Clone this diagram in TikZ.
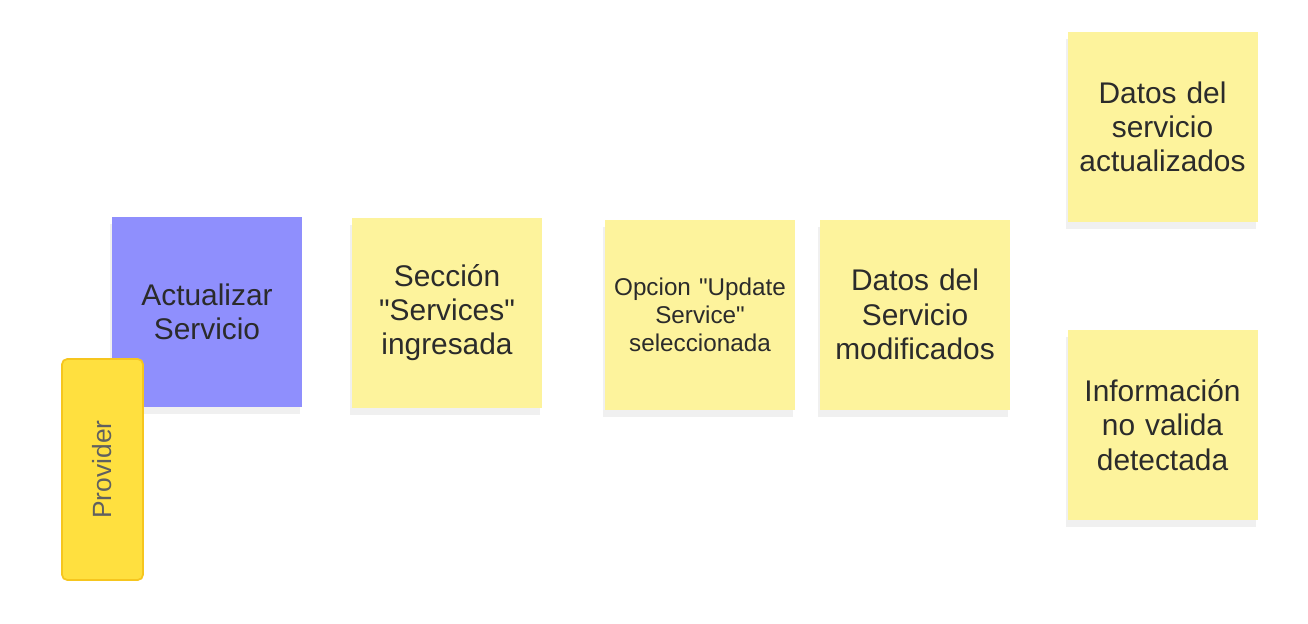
\documentclass[tikz,border=0pt]{standalone}
\usepackage{fontspec}
\setmainfont{Liberation Sans}
\usepackage{xcolor}
\usetikzlibrary{positioning, calc, shadows}

\definecolor{notey}{HTML}{FDF39C}
\definecolor{notep}{HTML}{8F8FFD}
\definecolor{tagy}{HTML}{FFE03F}
\definecolor{tagb}{HTML}{F6C61E}
\definecolor{ink}{HTML}{2B2B2B}

\begin{document}
\begin{tikzpicture}[
            % ---- styles ----
            note/.style = {rectangle, minimum size=3.8cm, inner sep=0pt, outer sep=0pt, align=center,
                text width=3.7cm, text=ink, font=\fontsize{17}{19.5}\selectfont,
                drop shadow={opacity=0.12, shadow xshift=-1pt, shadow yshift=-4pt}},
            event/.style = {note, fill=notey},
            command/.style = {note, fill=notep},
            actor/.style = {draw=tagb, line width=1pt, fill=tagy, rounded corners=3pt,
                minimum width=1.62cm, minimum height=4.42cm, inner sep=0pt}
        ]
        \useasboundingbox (0,0) rectangle (26.16,-12.46);

        % ===================== command + actor =====================
        \node[command] (cmd) at (4.14,-6.24) {Actualizar\\Servicio};
        \node[actor] (prov) at (2.05,-9.39) {};
        \node[rotate=90, text=ink!75, font=\fontsize{15}{17}\selectfont] (provtxt) at (prov) {Provider};

        % ===================== events =====================
        \node[event, right=1cm of cmd, yshift=-0.01cm] (seccion)
            {Secci\'on\\\textquotedbl Services\textquotedbl\\ingresada};
        \node[event, right=1.26cm of seccion, yshift=-0.04cm, font=\fontsize{13.8}{16}\selectfont] (opcion)
            {Opcion \textquotedbl Update\\Service\textquotedbl\\seleccionada};
        \node[event, right=0.5cm of opcion] (datosmod) {Datos del\\Servicio\\modificados};

        % two outcomes on the right
        \node[event] (datosact) at ($(datosmod.east)+(3.05,3.75)$) {Datos del\\servicio\\actualizados};
        \node[event, below=2.16cm of datosact] (invalida) {Informaci\'on\\no valida\\detectada};

\end{tikzpicture}
\end{document}
